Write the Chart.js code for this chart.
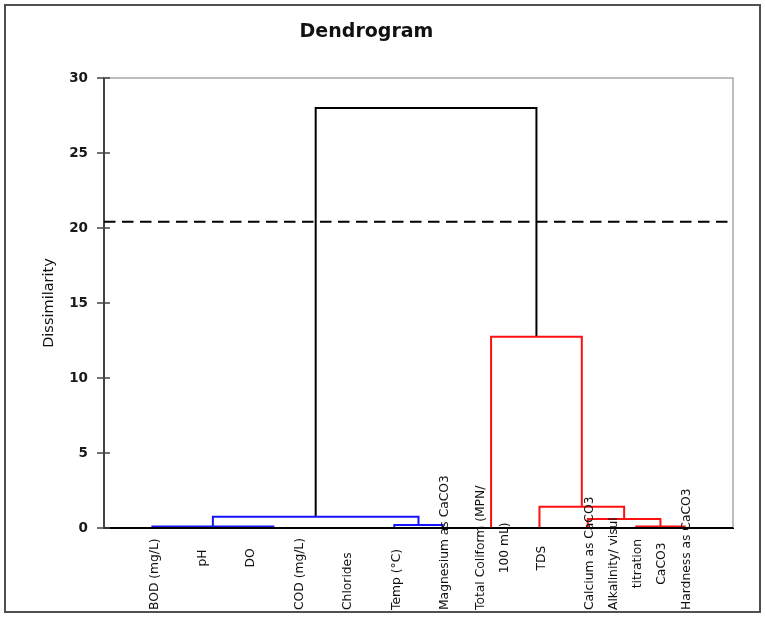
<!DOCTYPE html>
<html>
<head>
<meta charset="utf-8">
<script src="https://cdn.jsdelivr.net/npm/chart.js@4.4.1/dist/chart.umd.min.js"></script>
<style>
  body { margin: 0; background: #fff; }
  #wrap { position: relative; width: 765px; height: 622px; }
  #frame { position: absolute; left: 4px; top: 4px; width: 757px; height: 609px;
           box-sizing: border-box; border: 2px solid #505050; pointer-events: none; }
  canvas { position: absolute; left: 0; top: 0; }
</style>
</head>
<body>
<div id="wrap">
  <canvas id="dendro" width="765" height="622"></canvas>
  <div id="frame"></div>
</div>
<script>
// leaves, left to right (multi-line labels as arrays)
const leafLabels = [
    ["BOD (mg/L)"], ["pH"], ["DO"], ["COD (mg/L)"], ["Chlorides"], ["Temp (°C)"],
    ["Magnesium as CaCO3"], ["Total Coliform (MPN/", "100 mL)"], ["TDS"],
    ["Calcium as CaCO3"], ["Alkalinity/ visul", "titration", "CaCO3"], ["Hardness as CaCO3"]
];
// merges: child ids (0-11 leaves, 12+ earlier merges) and dissimilarity
const mergeLeft = [1, 3, 12, 0, 5, 15, 10, 9, 8, 7, 17];
const mergeRight = [2, 4, 13, 14, 6, 16, 11, 18, 19, 20, 21];
const mergeHeight = [0, 0, 0, 0.1, 0.2, 0.75, 0.1, 0.6, 1.42, 12.75, 28.0];
const cutLevel = 20.42;
const yTicks = [0, 5, 10, 15, 20, 25, 30];

const nLeaves = leafLabels.length;
let nodeX = leafLabels.map((_, i) => i);
let nodeH = leafLabels.map(() => 0);
let nodeLeaves = leafLabels.map((_, i) => [i]);
mergeHeight.forEach((h, k) => {
    const a = mergeLeft[k], b = mergeRight[k];
    nodeX.push((nodeX[a] + nodeX[b]) / 2);
    nodeH.push(h);
    nodeLeaves.push(nodeLeaves[a].concat(nodeLeaves[b]));
});
// first cluster under the root is blue, second red
const rootK = mergeHeight.length - 1;
const blueLeaves = nodeLeaves[mergeLeft[rootK]];

const datasets = mergeHeight.map((h, k) => {
    const a = mergeLeft[k], b = mergeRight[k];
    const leaves = nodeLeaves[nLeaves + k];
    let color = '#000000';
    if (h < cutLevel) color = blueLeaves.includes(leaves[0]) ? '#1414ff' : '#ff1010';
    return {
        data: [{x: nodeX[a], y: nodeH[a]}, {x: nodeX[a], y: h}, {x: nodeX[b], y: h}, {x: nodeX[b], y: nodeH[b]}],
        borderColor: color,
        borderWidth: 2,
        pointRadius: 0,
        tension: 0
    };
});
datasets.push({
    data: [{x: -1, y: cutLevel}, {x: nLeaves, y: cutLevel}],
    borderColor: '#000',
    borderWidth: 2,
    borderDash: [11.5, 6.5],
    pointRadius: 0
});

const framePlugin = {
    id: 'framePlugin',
    beforeDatasetsDraw(chart) {
        const {ctx, chartArea: a} = chart;
        ctx.save();
        ctx.strokeStyle = '#a8a8a8';
        ctx.lineWidth = 1.5;
        ctx.beginPath();
        ctx.moveTo(a.left, a.top);
        ctx.lineTo(a.right, a.top);
        ctx.lineTo(a.right, a.bottom);
        ctx.stroke();
        ctx.restore();
    },
    afterDatasetsDraw(chart) {
        const {ctx, chartArea: a, scales} = chart;
        ctx.save();
        // axis line on top of zero-height merges
        ctx.strokeStyle = '#000';
        ctx.lineWidth = 2;
        ctx.beginPath();
        ctx.moveTo(a.left, a.bottom);
        ctx.lineTo(a.right, a.bottom);
        ctx.stroke();
        // crossing y ticks
        ctx.strokeStyle = '#444';
        ctx.lineWidth = 1.5;
        yTicks.forEach(v => {
            const y = scales.y.getPixelForValue(v);
            ctx.beginPath();
            ctx.moveTo(a.left - 7, y);
            ctx.lineTo(a.left + 6, y);
            ctx.stroke();
        });
        // leaf labels
        ctx.font = '12.3px "DejaVu Sans"';
        ctx.fillStyle = '#111';
        ctx.textAlign = 'center';
        ctx.textBaseline = 'middle';
        leafLabels.forEach((lines, i) => {
            const w = Math.max(...lines.map(t => ctx.measureText(t).width));
            const yc = w > 55 ? 610 - w / 2 : 558;
            const xc = scales.x.getPixelForValue(i) + 2;
            lines.forEach((t, j) => {
                ctx.save();
                ctx.translate(xc + (j - (lines.length - 1) / 2) * 24, yc);
                ctx.rotate(-Math.PI / 2);
                ctx.fillText(t, 0, 0);
                ctx.restore();
            });
        });
        ctx.restore();
    }
};

new Chart(document.getElementById('dendro').getContext('2d'), {
    type: 'line',
    data: {datasets: datasets},
    plugins: [framePlugin],
    options: {
        responsive: false,
        animation: false,
        layout: {padding: {top: 0, right: 32, bottom: 0, left: 0}},
        plugins: {
            legend: {display: false},
            tooltip: {enabled: false},
            title: {
                display: true,
                text: 'Dendrogram',
                color: '#111',
                font: {family: 'DejaVu Sans', size: 19, weight: 'bold'},
                padding: {top: 21, bottom: 34.2}
            }
        },
        scales: {
            x: {
                type: 'linear',
                min: -1,
                max: nLeaves,
                grid: {display: false},
                ticks: {display: false},
                border: {display: true, color: '#000', width: 2},
                afterFit: s => { s.height = 94; }
            },
            y: {
                min: 0,
                max: 30,
                grid: {display: false},
                border: {display: true, color: '#444', width: 2},
                ticks: {
                    stepSize: 5,
                    padding: 8,
                    color: '#1a1a1a',
                    font: {family: 'DejaVu Sans', size: 13.5, weight: 'bold'}
                },
                title: {
                    display: true,
                    text: 'Dissimilarity',
                    color: '#111',
                    font: {family: 'DejaVu Sans', size: 14.5},
                    padding: {top: 41, bottom: 0}
                },
                afterFit: s => { s.width = 104; }
            }
        }
    }
});
</script>
</body>
</html>
